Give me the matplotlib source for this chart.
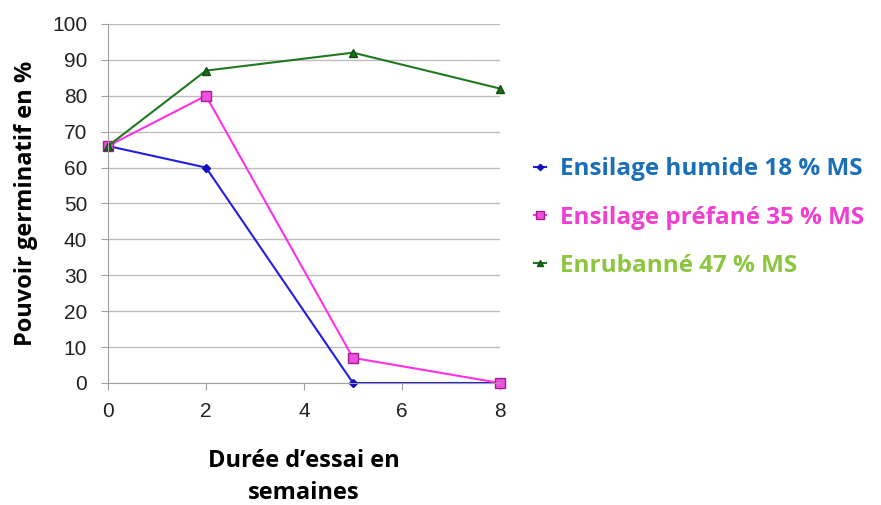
import matplotlib.pyplot as plt

semaines = [0, 2, 5, 8]
humide = [66, 60, 0, 0]
prefane = [66, 80, 7, 0]
enrubanne = [66, 87, 92, 82]

labels = ["Ensilage humide 18 % MS", "Ensilage préfané 35 % MS", "Enrubanné 47 % MS"]
text_colors = ["#1a6fb8", "#ee3fd0", "#8cc63e"]

tick_font = ["Liberation Sans Narrow", "Liberation Sans", "DejaVu Sans"]
bold_font = ["Open Sans", "DejaVu Sans"]

fig = plt.figure(figsize=(8.81, 5.05), dpi=100)
ax = fig.add_axes([0.1226, 0.2416, 0.4449, 0.711])

ax.plot(semaines, humide, color="#2020e0", lw=1.5, marker="D", ms=4,
        mfc="#1010c0", mec="#1010c0", label=labels[0], clip_on=False)
ax.plot(semaines, prefane, color="#ff30e8", lw=1.5, marker="s", ms=7,
        mfc="#f050e0", mec="#a02090", label=labels[1], clip_on=False)
ax.plot(semaines, enrubanne, color="#1e7a1e", lw=1.5, marker="^", ms=6,
        mfc="#1a6e1a", mec="#0e4e0e", label=labels[2], clip_on=False)

ax.set_xlim(0, 8)
ax.set_ylim(0, 100)
ax.set_xticks([0, 2, 4, 6, 8])
ax.set_yticks(range(0, 101, 10))
ax.grid(axis="y", color="#bdbdbd", lw=1)
ax.set_axisbelow(True)
for s in ["top", "right"]:
    ax.spines[s].set_visible(False)
ax.spines["left"].set_color("#a0a0a0")
ax.spines["bottom"].set_color("#a0a0a0")
ax.tick_params(axis="both", colors="#a0a0a0", labelcolor="#222222", length=5)
ax.tick_params(axis="x", pad=9)
ax.tick_params(axis="y", pad=10)
for t in ax.get_xticklabels() + ax.get_yticklabels():
    t.set_family(tick_font)
    t.set_fontsize(15)

ax.set_ylabel("Pouvoir germinatif en %", family=bold_font, fontweight="bold",
              fontsize=17, labelpad=10)
ax.set_xlabel("Durée d’essai en\nsemaines", family=bold_font, fontweight="bold",
              fontsize=17, labelpad=20, linespacing=1.45)

leg = fig.legend(loc="upper left", bbox_to_anchor=(0.581, 0.732), frameon=False,
                 handlelength=0.5, handletextpad=0.6, labelspacing=1.0,
                 markerscale=0.8, prop={"family": bold_font, "weight": "bold", "size": 17.5})
for txt, c in zip(leg.get_texts(), text_colors):
    txt.set_color(c)

fig.savefig("out.png", dpi=100)
